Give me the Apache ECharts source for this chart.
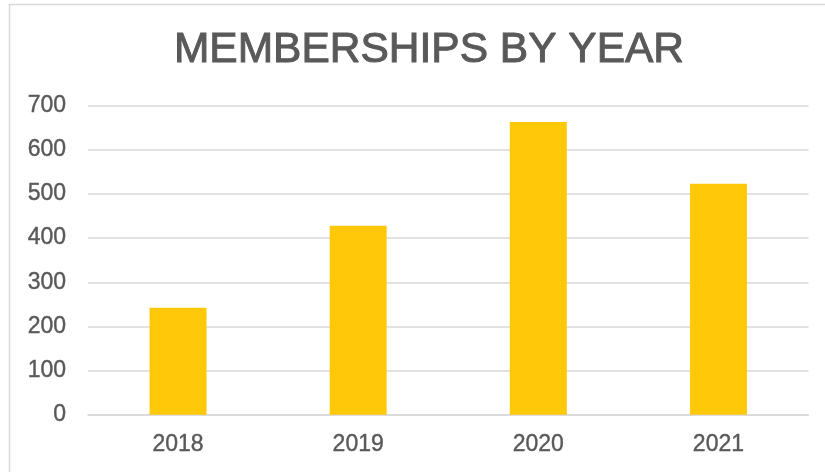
<!DOCTYPE html>
<html>
<head>
<meta charset="utf-8">
<script src="https://cdn.jsdelivr.net/npm/echarts@6/dist/echarts.min.js"></script>
<style>
html,body{margin:0;padding:0;background:#fff;}
#chart{width:825px;height:472px;}
</style>
</head>
<body>
<div id="chart"></div>
<script>
const titleText = 'MEMBERSHIPS BY YEAR';
const categories = ['2018', '2019', '2020', '2021'];
const memberships = [242, 428, 663, 523];
const yTicks = [0, 100, 200, 300, 400, 500, 600, 700];

const chart = echarts.init(document.getElementById('chart'), null, {renderer: 'canvas'});
const textColor = '#595959';
const fontFamily = '"Liberation Sans", Arial, Helvetica, sans-serif';

chart.setOption({
  animation: false,
  backgroundColor: '#ffffff',
  graphic: [{
    type: 'rect',
    shape: {x: 9.5, y: 4.5, width: 900, height: 600},
    style: {fill: 'none', stroke: '#d9d9d9', lineWidth: 1.5},
    silent: true,
    z: -10
  }],
  title: {
    text: titleText,
    left: 424,
    textAlign: 'center',
    top: 24,
    textStyle: {
      color: textColor,
      fontSize: 42.5,
      fontWeight: 'normal',
      fontFamily: fontFamily,
      textBorderColor: textColor,
      textBorderWidth: 1
    }
  },
  grid: {
    left: 88,
    right: 16.5,
    top: 105.7,
    bottom: 57.3,
    containLabel: false
  },
  xAxis: {
    type: 'category',
    data: categories,
    axisLine: {show: true, lineStyle: {color: '#d9d9d9', width: 1.5}},
    axisTick: {show: false},
    axisLabel: {
      color: textColor,
      fontSize: 23,
      fontFamily: fontFamily,
      margin: 18,
      textBorderColor: textColor,
      textBorderWidth: 0.4
    }
  },
  yAxis: {
    type: 'value',
    min: yTicks[0],
    max: yTicks[yTicks.length - 1],
    interval: yTicks[1] - yTicks[0],
    axisLine: {show: false},
    axisTick: {show: false},
    splitLine: {lineStyle: {color: '#d9d9d9', width: 1.5}},
    axisLabel: {
      color: textColor,
      fontSize: 23,
      fontFamily: fontFamily,
      margin: 22,
      textBorderColor: textColor,
      textBorderWidth: 0.4
    }
  },
  series: [{
    type: 'bar',
    data: memberships,
    barWidth: 57,
    itemStyle: {color: '#FFC90A'}
  }]
});
</script>
</body>
</html>
